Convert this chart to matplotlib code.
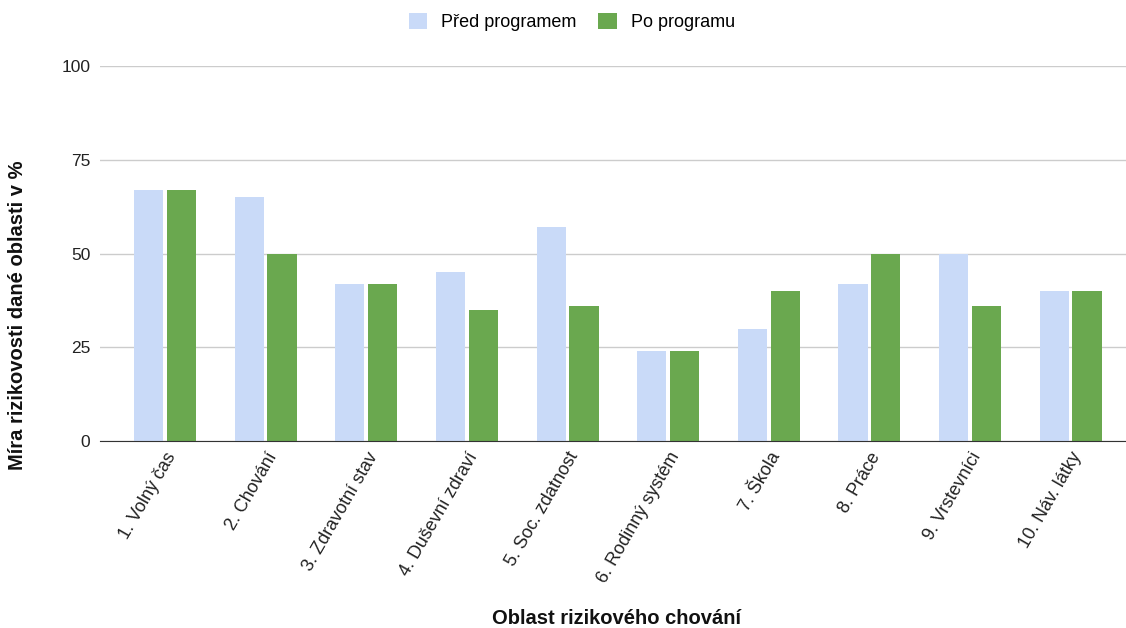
import matplotlib.pyplot as plt
import numpy as np

categories = ["1. Volný čas", "2. Chování", "3. Zdravotní stav", "4. Duševní zdraví",
              "5. Soc. zdatnost", "6. Rodinný systém", "7. Škola", "8. Práce",
              "9. Vrstevníci", "10. Náv. látky"]
pred = [67, 65, 42, 45, 57, 24, 30, 42, 50, 40]
po = [67, 50, 42, 35, 36, 24, 40, 50, 36, 40]
series_names = ["Před programem", "Po programu"]

plt.rcParams['font.family'] = ['Liberation Sans', 'DejaVu Sans']

fig = plt.figure(figsize=(11.26, 6.28), dpi=100)
ax = fig.add_axes([100/1126, 1 - 441/628, 1026/1126, 375/628])

x = np.arange(len(categories))
w = 0.29
ax.bar(x - 0.163, pred, w, color="#c9daf8", label=series_names[0], zorder=3)
ax.bar(x + 0.163, po, w, color="#6aa84f", label=series_names[1], zorder=3)

ax.set_xlim(-0.646, 9.55)
ax.set_ylim(0, 100)
ax.set_yticks([0, 25, 50, 75, 100])
ax.tick_params(axis='y', length=0, pad=7, labelsize=12.5, labelcolor="#222222")
ax.tick_params(axis='x', length=0, pad=6, labelsize=13, labelcolor="#222222")
ax.set_xticks(x)
ax.set_xticklabels(categories, rotation=60, ha='right', rotation_mode='anchor')
ax.grid(axis='y', color="#cccccc", linewidth=1, zorder=0)
for s in ["top", "right", "left"]:
    ax.spines[s].set_visible(False)
ax.spines["bottom"].set_color("#333333")
ax.spines["bottom"].set_zorder(4)

fig.text(617/1126, 1 - 619/628, "Oblast rizikového chování", ha='center', va='center',
         fontsize=14.5, fontweight='bold', color="#111111")
fig.text(18/1126, 1 - 315/628, "Míra rizikovosti dané oblasti v %", ha='center', va='center',
         rotation=90, fontsize=14.5, fontweight='bold', color="#111111")

fig.legend(loc='center', bbox_to_anchor=(572/1126, 1 - 22/628), ncol=2, frameon=False,
           fontsize=13, handlelength=1.0, handleheight=1.0, columnspacing=1.2,
           handletextpad=0.8)

fig.savefig("out.png", dpi=100)
